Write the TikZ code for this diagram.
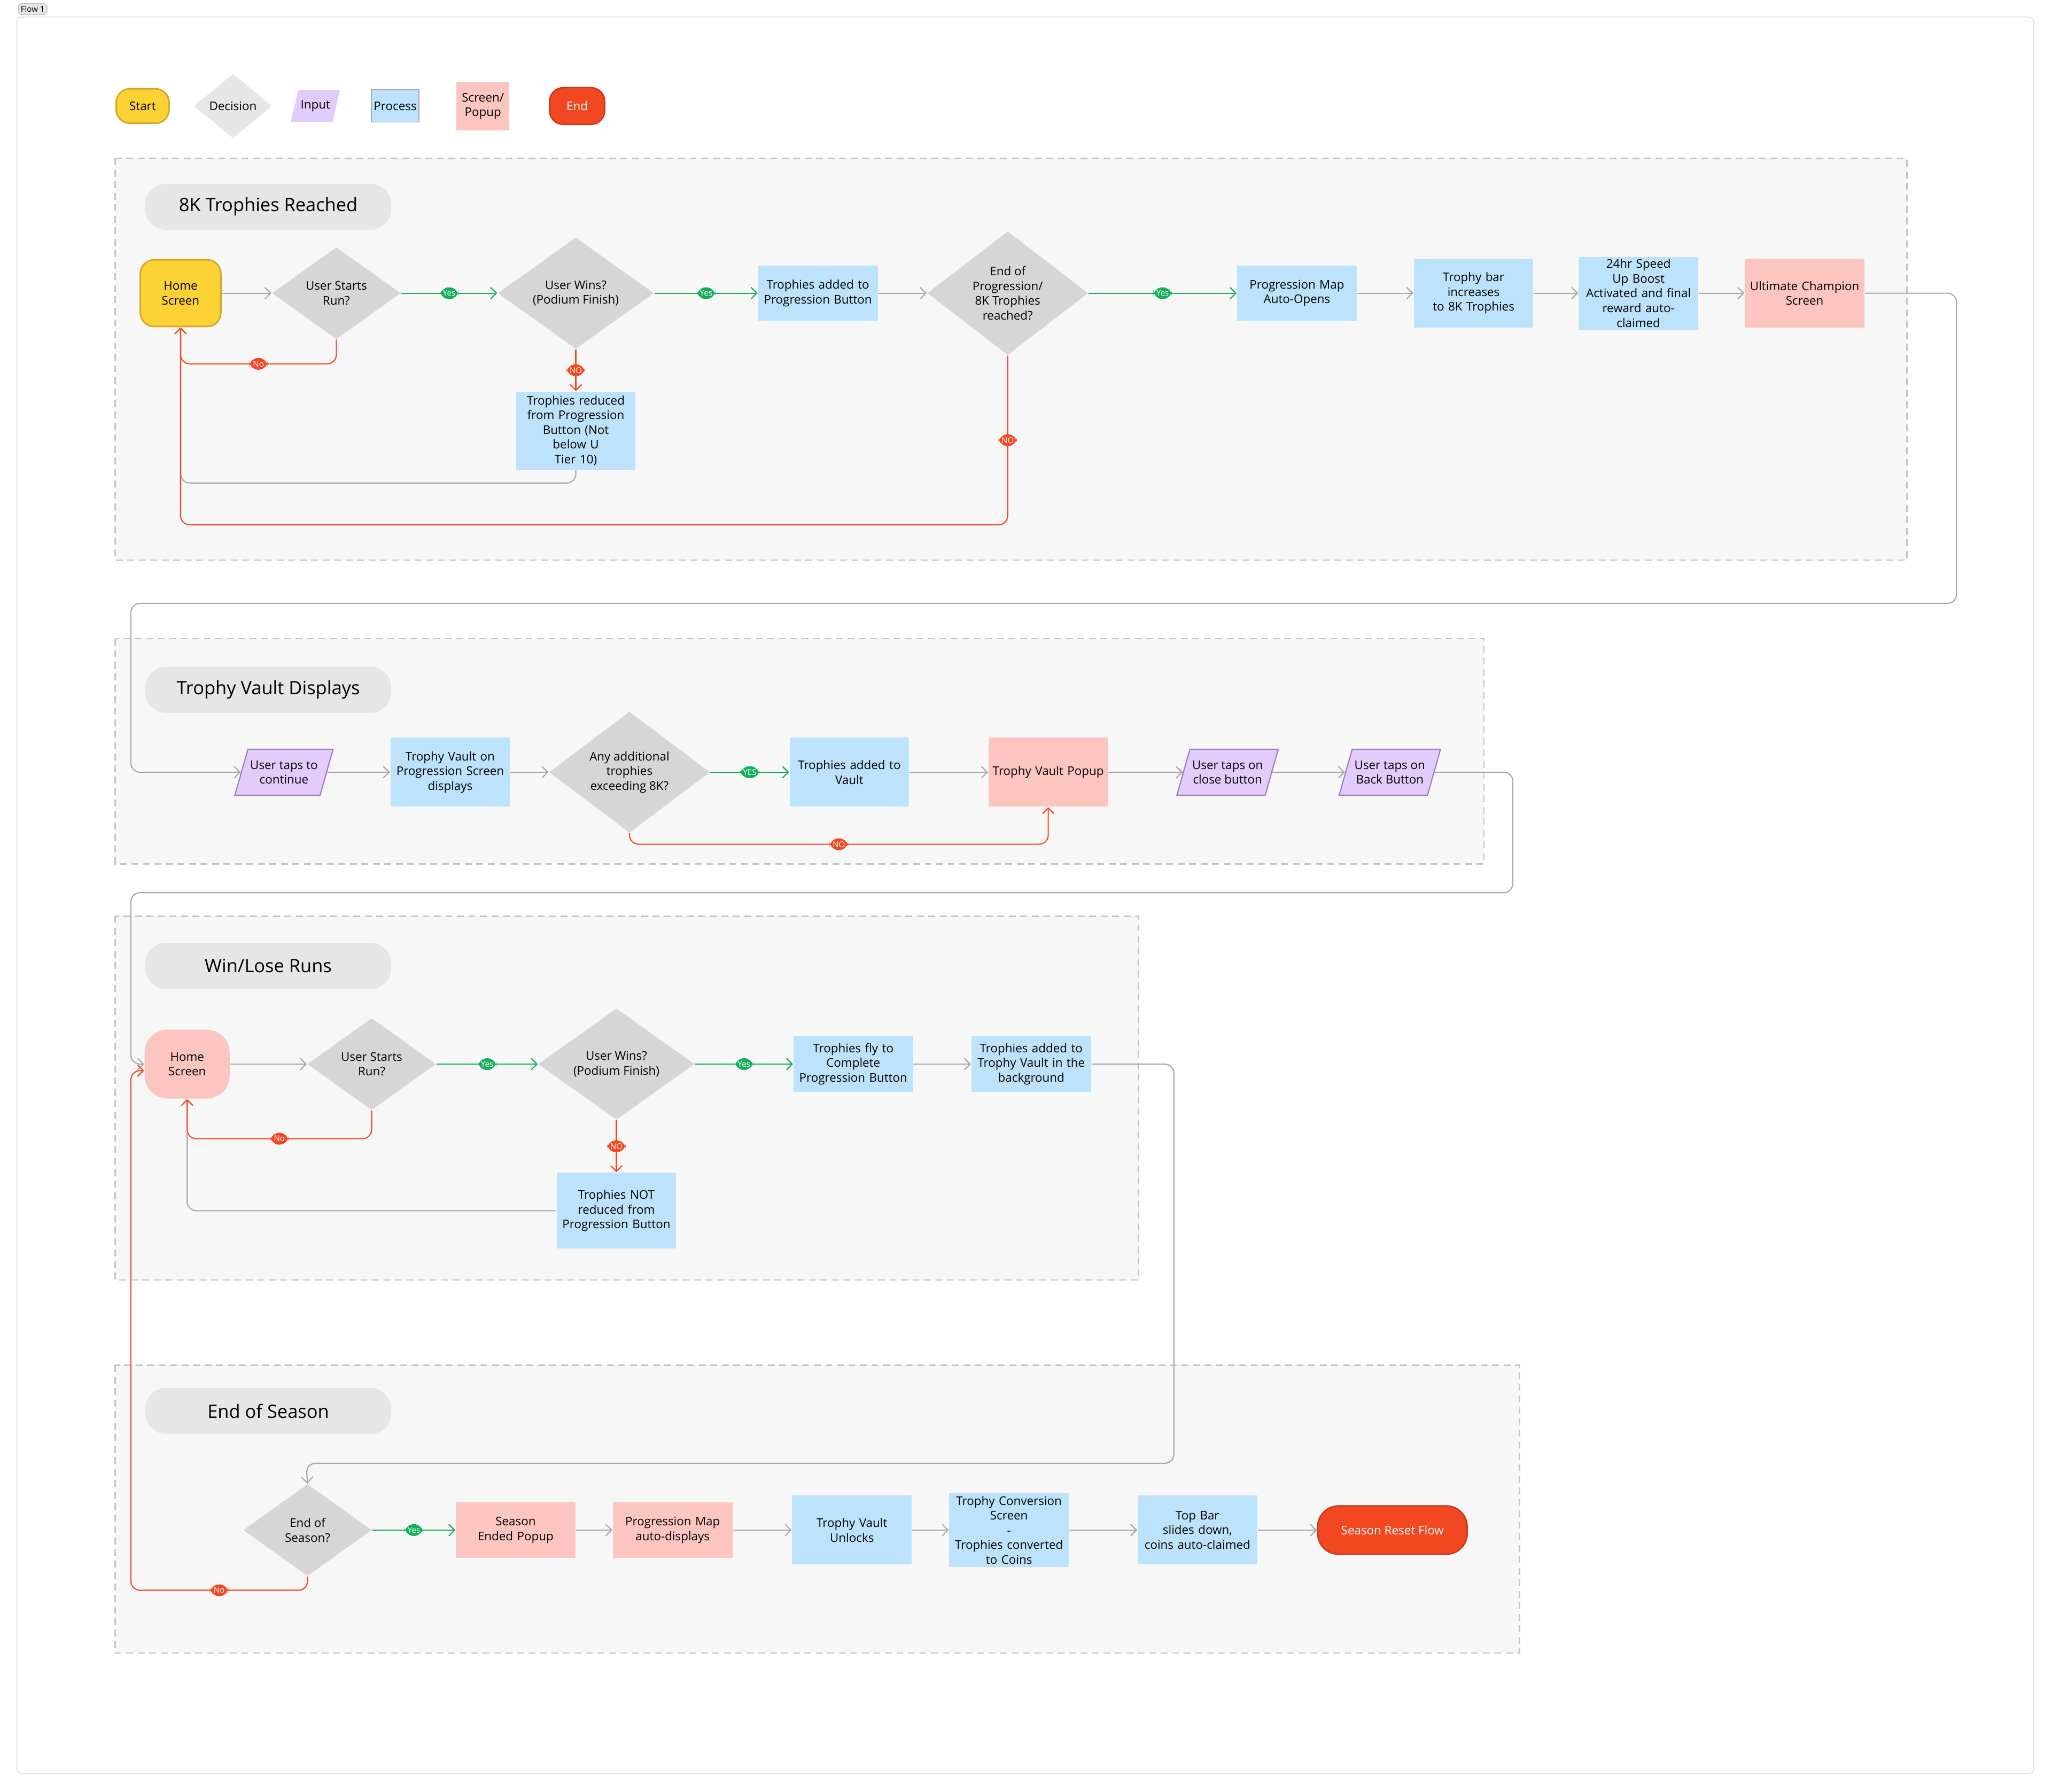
\documentclass[tikz,border=0pt]{standalone}
\usepackage{fontspec}
\setmainfont{Open Sans}
\usetikzlibrary{arrows.meta, shapes.geometric}
\definecolor{startY}{HTML}{FDD235}
\definecolor{startB}{HTML}{D4A82A}
\definecolor{decG}{HTML}{D6D6D6}
\definecolor{inP}{HTML}{E2CCFB}
\definecolor{inB}{HTML}{9B7BC2}
\definecolor{procB}{HTML}{BDE3FC}
\definecolor{scrP}{HTML}{FDC5C0}
\definecolor{endR}{HTML}{F24822}
\definecolor{endB}{HTML}{C5391C}
\definecolor{okG}{HTML}{14AE5C}
\definecolor{lineG}{HTML}{A8A8A8}
\definecolor{secF}{HTML}{F7F7F7}
\definecolor{secB}{HTML}{C4C4C4}
\definecolor{pillF}{HTML}{E6E6E6}
\newcommand{\txt}{\fontsize{5.2}{6.4}\selectfont}
\tikzset{
  base/.style={align=center, font=\txt, inner sep=1pt},
  start/.style={base, rounded corners=6pt, fill=startY, draw=startB, line width=0.7pt},
  dec/.style={base, diamond, fill=decG, inner sep=0pt},
  inp/.style={base, trapezium, trapezium left angle=65, trapezium right angle=115, fill=inP, draw=inB, line width=0.5pt, minimum height=20pt, trapezium stretches body},
  proc/.style={base, fill=procB, minimum width=52pt, text width=50pt},
  scr/.style={base, fill=scrP, minimum width=52pt, text width=50pt},
  stop/.style={base, rounded corners=9pt, fill=endR, draw=endB, line width=0.6pt, text=white},
  sec/.style={fill=secF, draw=secB, dashed, line width=0.6pt, dash pattern=on 3pt off 2pt},
  pill/.style={fill=pillF, rounded corners=9pt, minimum width=107pt, minimum height=20pt, font=\fontsize{8}{9}\selectfont},
  ln/.style={draw=lineG, line width=0.5pt, rounded corners=4pt, -{Straight Barb[length=2.5pt,width=5pt]}},
  gr/.style={ln, draw=okG},
  rd/.style={ln, draw=endR},
  yes/.style={fill=okG, text=white, font=\fontsize{3.5}{4}\selectfont, inner sep=1.3pt, minimum width=8pt},
  no/.style={yes, fill=endR},
}
\begin{document}
\begin{tikzpicture}[x=0.02cm, y=-0.02cm]
\useasboundingbox (0,0) rectangle (1568,1369);
\fill[white] (0,0) rectangle (1568,1369);
\draw[secB!50, line width=0.4pt, rounded corners=2pt] (13,13) rectangle (1554,1355);
\node[fill=pillF, draw=secB, rounded corners=1.5pt, font=\fontsize{3.5}{4}\selectfont, inner sep=1pt] (flow) at (25,7) {Flow 1};

% legend
\node[start, minimum width=23pt, minimum height=15pt] (lgS) at (109,81) {Start};
\node[dec, fill=pillF, minimum width=34pt, minimum height=28pt] (lgD) at (178,81) {Decision};
\node[inp, minimum width=20pt, minimum height=14pt, draw=none] (lgI) at (241,81) {Input};
\node[base, fill=procB, draw=inB!30!procB!60!gray, minimum width=18pt, minimum height=14pt] (lgP) at (302,81) {Process};
\node[base, fill=scrP, minimum width=23pt, minimum height=21pt] (lgR) at (369,81) {Screen/\\Popup};
\node[stop, minimum width=24pt, minimum height=16pt, rounded corners=6pt] (lgE) at (441,81) {End};

% sections
\draw[sec] (88,121) rectangle (1457,428);
\draw[sec] (88,488) rectangle (1134,660);
\draw[sec] (88,700) rectangle (870,978);
\draw[sec] (88,1043) rectangle (1161,1263);
\node[pill] (t1) at (205,158) {8K Trophies Reached};
\node[pill] (t2) at (205,527) {Trophy Vault Displays};
\node[pill] (t3) at (205,738) {Win/Lose Runs};
\node[pill] (t4) at (205,1078) {End of Season};

% 8K Trophies Reached
\node[start, minimum width=35pt, minimum height=29pt] (home1) at (138,224) {Home\\Screen};
\node[dec, minimum width=56pt, minimum height=40pt] (us1) at (257,224) {User Starts\\Run?};
\node[dec, minimum width=68pt, minimum height=47pt] (uw1) at (440,224) {User Wins?\\(Podium Finish)};
\node[proc, minimum height=24pt] (ta1) at (625,224) {Trophies added to\\Progression Button};
\node[dec, minimum width=70pt, minimum height=52pt] (eop) at (770,224) {End of\\Progression/\\8K Trophies\\reached?};
\node[proc, minimum height=24pt] (pm1) at (991,224) {Progression Map\\Auto-Opens};
\node[proc, minimum height=30pt] (tb1) at (1126,224) {Trophy bar increases\\to 8K Trophies};
\node[proc, minimum height=30pt] (sb1) at (1252,224) {24hr Speed Up Boost\\Activated and final\\reward auto-claimed};
\node[scr, minimum height=30pt] (uc1) at (1379,224) {Ultimate Champion\\Screen};
\node[proc, minimum height=34pt] (tr1) at (440,329) {Trophies reduced\\from Progression\\Button (Not below U\\Tier 10)};

\draw[ln] (home1) -- (us1);
\draw[gr] (us1) -- node[yes]{Yes} (uw1);
\draw[gr] (uw1) -- node[yes]{Yes} (ta1);
\draw[ln] (ta1) -- (eop);
\draw[gr] (eop) -- node[yes]{Yes} (pm1);
\draw[ln] (pm1) -- (tb1);
\draw[ln] (tb1) -- (sb1);
\draw[ln] (sb1) -- (uc1);
\draw[rd] (uw1.south) -- node[no]{NO} (tr1.north);
\draw[ln, -] (tr1.south) -- (440,369) -| (138,300);
\draw[rd] (eop.south) -- node[no]{NO} (770,401) -| (home1.south);
\draw[rd] (us1.south) -- (257,278) -| node[no, pos=0.25]{No} (home1.south);

% Trophy Vault Displays
\node[inp, minimum width=40pt] (tc2) at (217,590) {User taps to\\continue};
\node[proc, minimum height=30pt] (tv2) at (344,590) {Trophy Vault on\\Progression Screen\\displays};
\node[dec, minimum width=70pt, minimum height=50pt] (at2) at (481,590) {Any additional\\trophies\\exceeding 8K?};
\node[proc, minimum height=30pt] (av2) at (649,590) {Trophies added to\\Vault};
\node[scr, minimum height=30pt] (vp2) at (801,590) {Trophy Vault Popup};
\node[inp, minimum width=42pt] (cb2) at (938,590) {User taps on\\close button};
\node[inp, minimum width=42pt] (bb2) at (1062,590) {User taps on\\Back Button};

\draw[ln] (uc1.east) -- (1495,224) -- (1495,461) -- (100,461) -- (100,590) -- (tc2.west);
\draw[ln] (tc2) -- (tv2);
\draw[ln] (tv2) -- (at2);
\draw[gr] (at2) -- node[yes]{YES} (av2);
\draw[ln] (av2) -- (vp2);
\draw[ln] (vp2) -- (cb2);
\draw[ln] (cb2) -- (bb2);
\draw[rd] (at2.south) -- (481,645) -- node[no]{NO} (801,645) -- (vp2.south);

% Win/Lose Runs
\node[base, rounded corners=10pt, fill=scrP, minimum width=37pt, minimum height=30pt] (home3) at (143,813) {Home\\Screen};
\node[dec, minimum width=56pt, minimum height=40pt] (us3) at (284,813) {User Starts\\Run?};
\node[dec, minimum width=68pt, minimum height=40pt] (uw3) at (471,813) {User Wins?\\(Podium Finish)};
\node[proc, minimum height=24pt] (tf3) at (652,813) {Trophies fly to\\Complete\\Progression Button};
\node[proc, minimum height=24pt] (tv3) at (788,813) {Trophies added to\\Trophy Vault in the\\background};
\node[proc, minimum height=33pt] (tn3) at (471,925) {Trophies NOT\\reduced from\\Progression Button};

\draw[ln] (bb2.east) -- (1156,590) -- (1156,682) -- (100,682) -- (100,813) -- (home3.west);
\draw[ln] (home3) -- (us3);
\draw[gr] (us3) -- node[yes]{Yes} (uw3);
\draw[gr] (uw3) -- node[yes]{Yes} (tf3);
\draw[ln] (tf3) -- (tv3);
\draw[rd] (uw3.south) -- node[no]{NO} (tn3.north);
\draw[ln] (tn3.west) -| (home3.south);
\draw[rd] (us3.south) -- (284,870) -| node[no, pos=0.25]{No} (home3.south);

% End of Season
\node[dec, minimum width=56pt, minimum height=40pt] (es4) at (235,1169) {End of\\Season?};
\node[scr, minimum height=24pt] (se4) at (394,1169) {Season Ended Popup};
\node[scr, minimum height=24pt] (pm4) at (514,1169) {Progression Map\\auto-displays};
\node[proc, minimum height=30pt] (vu4) at (651,1169) {Trophy Vault Unlocks};
\node[proc, minimum height=32pt] (tc4) at (771,1169) {Trophy Conversion\\Screen\\-\\Trophies converted\\to Coins};
\node[proc, minimum height=30pt] (tb4) at (915,1169) {Top Bar slides down,\\coins auto-claimed};
\node[stop, minimum width=65pt, minimum height=21pt] (rs4) at (1064,1169) {Season Reset Flow};

\draw[ln] (tv3.east) -- (897,813) -- (897,1118) -- (234,1118) -- (es4.north);
\draw[gr] (es4) -- node[yes]{Yes} (se4);
\draw[ln] (se4) -- (pm4);
\draw[ln] (pm4) -- (vu4);
\draw[ln] (vu4) -- (tc4);
\draw[ln] (tc4) -- (tb4);
\draw[ln] (tb4) -- (rs4);
\draw[rd] (es4.south) -- (235,1215) -- node[no]{No} (100,1215) -- (100,818) -- (home3.west |- 0,818);
\end{tikzpicture}
\end{document}
